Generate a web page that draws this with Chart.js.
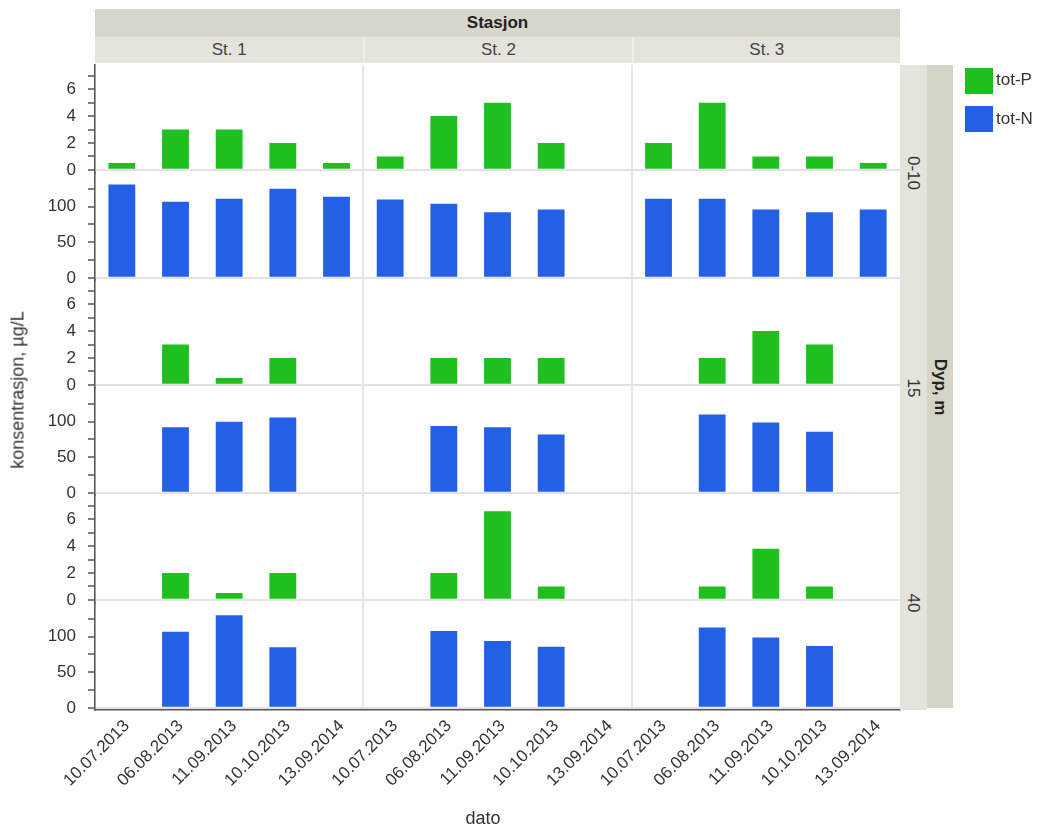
<!DOCTYPE html>
<html>
<head>
<meta charset="utf-8">
<script src="https://cdn.jsdelivr.net/npm/chart.js@4/dist/chart.umd.min.js"></script>
<style>
  html, body { margin: 0; padding: 0; background: #fff; }
  #wrap { position: relative; width: 1045px; height: 830px; overflow: hidden;
          font-family: "Liberation Sans", Arial, sans-serif; color: #333; }
  #plot { position: absolute; left: 0; top: 0; }
  .box { position: absolute; box-sizing: border-box; display: flex;
         align-items: center; justify-content: center; white-space: nowrap; }
  .outer { background: #d8d6cb; }
  .inner { background: #e4e3dc; }
  .vtext { display: inline-block; transform: rotate(90deg); }
  .title { position: absolute; white-space: nowrap; font-size: 18px; color: #333; }
  .sw { position: absolute; width: 28px; height: 26px; }
  .lg { position: absolute; font-size: 17px; color: #333; line-height: 20px; }
</style>
</head>
<body>
<div id="wrap">
  <canvas id="plot" width="1045" height="830"></canvas>
</div>
<script>
// Sampling dates, stations and depth layers
const dates = ['10.07.2013', '06.08.2013', '11.09.2013', '10.10.2013', '13.09.2014'];
const stations = ['St. 1', 'St. 2', 'St. 3'];
const depths = ['0-10', '15', '40'];

// Concentrations (µg/L); each array runs St. 1, St. 2, St. 3, five dates per station
const totP_0_10 = [0.5, 3, 3, 2, 0.5,    1, 4, 5, 2, null,       2, 5, 1, 1, 0.5];
const totN_0_10 = [131, 107, 111, 125, 114,  110, 104, 92, 96, null,  111, 111, 96, 92, 96];
const totP_15   = [null, 3, 0.5, 2, null,  null, 2, 2, 2, null,     null, 2, 4, 3, null];
const totN_15   = [null, 92, 100, 106, null, null, 94, 92, 82, null, null, 110, 99, 86, null];
const totP_40   = [null, 2, 0.5, 2, null,  null, 2, 6.6, 1, null,   null, 1, 3.8, 1, null];
const totN_40   = [null, 107, 130, 85, null, null, 108, 94, 86, null, null, 113, 99, 87, null];

// Axis ticks and which of them carry a label
const pTicks = [0, 1, 2, 3, 4, 5, 6, 7];
const pLabels = [0, 2, 4, 6];
const nTicks = [0, 25, 50, 75, 100, 125];
const nLabels = [0, 50, 100];

const GREEN = '#1ebf1e';
const BLUE = '#2360e6';
const TEXT = '#333';
const AXIS = '#555';
const FONT = { family: '"Liberation Sans", Arial, sans-serif', size: 17 };

const pSeries = [totP_0_10, totP_15, totP_40];
const nSeries = [totN_0_10, totN_15, totN_40];
const categories = stations.flatMap(() => dates);

// Geometry of the panel grid
const AREA = { left: 95, top: 65, right: 900, bottom: 710 };
const W = 1045, H = 830;

function yScale(isP, order) {
  return {
    type: 'linear',
    position: 'left',
    stack: 'rows',
    stackWeight: 1,
    weight: order,
    min: isP ? -0.2 : -3,
    max: isP ? 7.8 : 148,
    afterBuildTicks: s => { s.ticks = (isP ? pTicks : nTicks).map(v => ({ value: v })); },
    afterFit: s => { s.width = AREA.left; },
    ticks: {
      font: FONT, color: TEXT, padding: 12, autoSkip: false,
      callback: v => ((isP ? pLabels : nLabels).includes(v) ? String(v) : '')
    },
    grid: {
      color: ctx => (ctx.tick && ctx.tick.value === 0 ? '#e3e3e3' : 'rgba(0,0,0,0)'),
      lineWidth: 2,
      tickColor: AXIS,
      tickWidth: 1.5,
      tickLength: 7
    },
    border: { display: true, color: AXIS, width: 1.5 }
  };
}

const scales = {
  x: {
    type: 'category',
    labels: categories,
    offset: true,
    grid: {
      offset: true,
      drawTicks: false,
      lineWidth: 2,
      color: ctx => (typeof ctx.index === 'number' && ctx.index % dates.length === 0 ? '#e6e6e6' : 'rgba(0,0,0,0)')
    },
    border: { display: true, color: AXIS, width: 1.5 },
    ticks: { font: FONT, color: TEXT, autoSkip: false, maxRotation: 45, minRotation: 45, padding: 6, labelOffset: 5 },
    afterFit: s => { s.height = H - AREA.bottom; }
  }
};

const datasets = [];
depths.forEach((d, j) => {
  scales['yP' + j] = yScale(true, 10 - 2 * j);
  scales['yN' + j] = yScale(false, 9 - 2 * j);
  datasets.push({
    label: 'tot-P', data: pSeries[j], yAxisID: 'yP' + j, xAxisID: 'x',
    backgroundColor: GREEN, grouped: false, barPercentage: 0.5, categoryPercentage: 1
  });
  datasets.push({
    label: 'tot-N', data: nSeries[j], yAxisID: 'yN' + j, xAxisID: 'x',
    backgroundColor: BLUE, grouped: false, barPercentage: 0.5, categoryPercentage: 1
  });
});

new Chart(document.getElementById('plot'), {
  type: 'bar',
  data: { labels: categories, datasets },
  options: {
    responsive: false,
    animation: false,
    devicePixelRatio: 1,
    layout: { padding: { left: 0, top: AREA.top, right: W - AREA.right, bottom: 0 } },
    plugins: { legend: { display: false }, tooltip: { enabled: false } },
    scales
  }
});

// Facet strips, axis titles and legend
const wrap = document.getElementById('wrap');
function add(cls, css, html) {
  const el = document.createElement('div');
  el.className = cls;
  Object.assign(el.style, css);
  if (html !== undefined) el.innerHTML = html;
  wrap.appendChild(el);
  return el;
}
const colW = (AREA.right - AREA.left) / stations.length;
const rowH = (AREA.bottom - AREA.top) / depths.length;

add('box outer', { left: AREA.left + 'px', top: '9px', width: (AREA.right - AREA.left) + 'px', height: '28px',
  fontWeight: 'bold', fontSize: '17px', color: '#222' }, 'Stasjon');
stations.forEach((s, i) => {
  add('box inner', { left: (AREA.left + i * colW) + 'px', top: '37px', width: colW + 'px', height: '26px',
    fontSize: '17px', color: '#444', borderLeft: i ? '2px solid #efefea' : 'none' }, s);
});
depths.forEach((d, j) => {
  add('box inner', { left: AREA.right + 'px', top: (AREA.top + j * rowH) + 'px', width: '27px',
    height: rowH + 'px', fontSize: '17px', color: '#333' }, '<span class="vtext">' + d + '</span>');
});
add('box outer', { left: (AREA.right + 27) + 'px', top: AREA.top + 'px', width: '26px',
  height: (AREA.bottom - AREA.top - 2) + 'px', background: '#d6d4c6', fontWeight: 'bold', fontSize: '17px', color: '#222' },
  '<span class="vtext">Dyp, m</span>');

add('title', { left: '483px', top: '818px', transform: 'translate(-50%,-50%)' }, 'dato');
add('title', { left: '18px', top: '390px', transform: 'translate(-50%,-50%) rotate(-90deg)' }, 'konsentrasjon, µg/L');

add('sw', { left: '965px', top: '68px', background: GREEN });
add('sw', { left: '965px', top: '106px', background: BLUE });
add('lg', { left: '996px', top: '70px' }, 'tot-P');
add('lg', { left: '996px', top: '109px' }, 'tot-N');
</script>
</body>
</html>
